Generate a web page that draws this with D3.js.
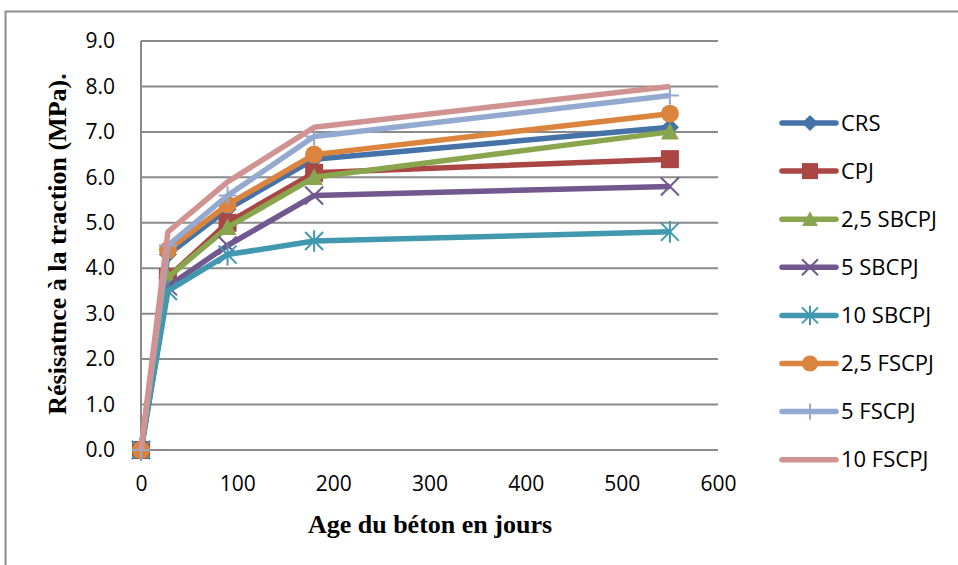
<!DOCTYPE html>
<html>
<head>
<meta charset="utf-8">
<script src="https://cdn.jsdelivr.net/npm/d3@7"></script>
<style>
  html, body { margin: 0; padding: 0; background: #fff; }
  svg { display: block; }
</style>
</head>
<body>
<svg id="chart" width="958" height="565"></svg>
<script>
// Age of concrete (days)
const ages = [0, 28, 90, 180, 550];

// Tensile strength (MPa) for each mix
const seriesNames = ["CRS", "CPJ", "2,5 SBCPJ", "5 SBCPJ", "10 SBCPJ", "2,5 FSCPJ", "5 FSCPJ", "10 FSCPJ"];
const crs       = [0, 4.3, 5.3, 6.4, 7.1];
const cpj       = [0, 3.8, 5.0, 6.1, 6.4];
const sbcpj25   = [0, 3.8, 4.9, 6.0, 7.0];
const sbcpj5    = [0, 3.6, 4.5, 5.6, 5.8];
const sbcpj10   = [0, 3.5, 4.3, 4.6, 4.8];
const fscpj25   = [0, 4.4, 5.4, 6.5, 7.4];
const fscpj5    = [0, 4.5, 5.6, 6.9, 7.8];
const fscpj10   = [0, 4.8, 5.9, 7.1, 8.0];
const seriesValues = [crs, cpj, sbcpj25, sbcpj5, sbcpj10, fscpj25, fscpj5, fscpj10];

const seriesColors = ["#4572A7", "#AA4643", "#89A54E", "#71588F", "#4198AF", "#DB843D", "#93A9CF", "#D19392"];
const seriesMarkers = ["diamond", "square", "triangle", "x", "star", "circle", "plus", "none"];

const xTicks = [0, 100, 200, 300, 400, 500, 600];
const yTicks = [0, 1, 2, 3, 4, 5, 6, 7, 8, 9];

const svg = d3.select("#chart");

// Outer chart frame
svg.append("rect")
  .attr("x", 5.5).attr("y", 11.5)
  .attr("width", 980).attr("height", 600)
  .attr("fill", "none").attr("stroke", "#8c8c8c").attr("stroke-width", 2);

const x = d3.scaleLinear().domain([0, 600]).range([141, 718]);
const y = d3.scaleLinear().domain([0, 9]).range([450, 41]);

// Horizontal gridlines
svg.append("g").selectAll("line").data(yTicks).join("line")
  .attr("x1", x(0)).attr("x2", x(600))
  .attr("y1", d => y(d)).attr("y2", d => y(d))
  .attr("stroke", "#8a8a8a").attr("stroke-width", 2);

// Vertical axis line
svg.append("line")
  .attr("x1", x(0)).attr("x2", x(0))
  .attr("y1", y(0)).attr("y2", y(9))
  .attr("stroke", "#8a8a8a").attr("stroke-width", 2);

// Y tick labels
const yAxis = d3.axisLeft(y).tickValues(yTicks).tickFormat(d3.format(".1f")).tickSize(0).tickPadding(26);
const gy = svg.append("g").attr("transform", `translate(${x(0)},0)`).call(yAxis);
gy.select(".domain").remove();
gy.selectAll("text").attr("font-family", "'Open Sans', sans-serif").attr("font-size", 21).attr("fill", "#000");

// X tick labels
const xAxis = d3.axisBottom(x).tickValues(xTicks).tickFormat(d3.format("d")).tickSize(0).tickPadding(26);
const gx = svg.append("g").attr("transform", `translate(0,${y(0)})`).call(xAxis);
gx.select(".domain").remove();
gx.selectAll("text").attr("font-family", "'Open Sans', sans-serif").attr("font-size", 21).attr("fill", "#000");

// Axis titles
svg.append("text")
  .attr("x", 430).attr("y", 533)
  .attr("text-anchor", "middle")
  .attr("font-family", "'Liberation Serif', 'Times New Roman', serif")
  .attr("font-weight", "bold").attr("font-size", 26)
  .text("Age du béton en jours");

svg.append("text")
  .attr("transform", "translate(66,244) rotate(-90)")
  .attr("text-anchor", "middle")
  .attr("font-family", "'Liberation Serif', 'Times New Roman', serif")
  .attr("font-weight", "bold").attr("font-size", 26)
  .text("Résisatnce à la traction (MPa).");

// Marker shapes
function drawMarker(g, type, color, r) {
  if (type === "diamond") {
    g.append("path").attr("d", `M0,${-r}L${r},0L0,${r}L${-r},0Z`).attr("fill", color);
  } else if (type === "square") {
    g.append("rect").attr("x", -r).attr("y", -r).attr("width", 2 * r).attr("height", 2 * r).attr("fill", color);
  } else if (type === "triangle") {
    g.append("path").attr("d", `M0,${-r}L${r},${r * 0.85}L${-r},${r * 0.85}Z`).attr("fill", color);
  } else if (type === "circle") {
    g.append("circle").attr("r", r).attr("fill", color);
  } else if (type === "x") {
    g.append("path").attr("d", `M${-r},${-r}L${r},${r}M${-r},${r}L${r},${-r}`)
      .attr("stroke", color).attr("stroke-width", 2).attr("fill", "none");
  } else if (type === "star") {
    g.append("path").attr("d", `M${-r},${-r}L${r},${r}M${-r},${r}L${r},${-r}M0,${-r * 1.2}L0,${r * 1.2}`)
      .attr("stroke", color).attr("stroke-width", 2).attr("fill", "none");
  } else if (type === "plus") {
    g.append("path").attr("d", `M0,${-r}L0,${r}M${-r},0L${r},0`)
      .attr("stroke", color).attr("stroke-width", 2).attr("fill", "none");
  }
}

const line = d3.line().x(d => x(d[0])).y(d => y(d[1]));
const plot = svg.append("g");

seriesNames.forEach((name, i) => {
  const pts = ages.map((a, j) => [a, seriesValues[i][j]]);
  const g = plot.append("g");
  g.append("path").datum(pts)
    .attr("d", line)
    .attr("fill", "none")
    .attr("stroke", seriesColors[i])
    .attr("stroke-width", 5.5)
    .attr("stroke-linejoin", "round");
  pts.forEach(p => {
    const m = g.append("g").attr("transform", `translate(${x(p[0])},${y(p[1])})`);
    drawMarker(m, seriesMarkers[i], seriesColors[i], 9);
  });
});

// Legend
const legend = svg.append("g");
seriesNames.forEach((name, i) => {
  const ly = 123 + i * 48.1;
  const g = legend.append("g").attr("transform", `translate(0,${ly})`);
  g.append("line").attr("x1", 782).attr("x2", 836).attr("y1", 0).attr("y2", 0)
    .attr("stroke", seriesColors[i]).attr("stroke-width", 5.5).attr("stroke-linecap", "round");
  const m = g.append("g").attr("transform", "translate(810,0)");
  drawMarker(m, seriesMarkers[i], seriesColors[i], 8);
  g.append("text").attr("x", 841).attr("y", 0).attr("dy", "0.35em")
    .attr("font-family", "'Open Sans', sans-serif").attr("font-size", 22)
    .attr("fill", "#000").text(name);
});
</script>
</body>
</html>
